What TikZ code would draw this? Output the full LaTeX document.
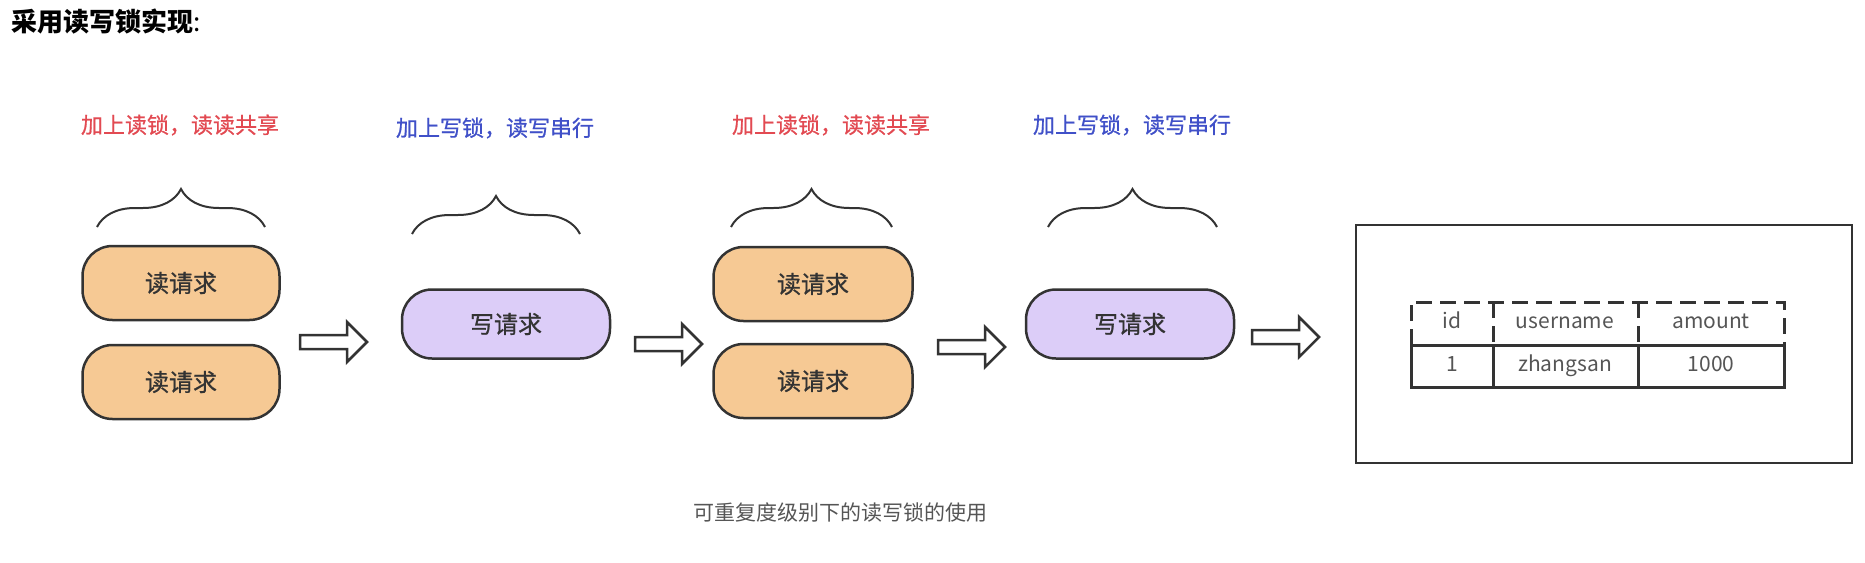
\documentclass[tikz,border=0pt]{standalone}
\usepackage{fontspec}
\setmainfont{Noto Sans CJK SC}
\newfontfamily\medfont[FakeBold=0.8]{Noto Sans CJK SC}
\usetikzlibrary{decorations.pathreplacing}
\definecolor{rot}{HTML}{E24A52}
\definecolor{blau}{HTML}{4050C8}
\definecolor{orangel}{HTML}{F6C994}
\definecolor{lilal}{HTML}{DCCDF8}
\definecolor{rand}{HTML}{333333}
\definecolor{grau}{HTML}{555555}
\tikzset{
  rbox/.style={draw=rand,fill=orangel,line width=2.5pt,rounded corners=30pt,minimum width=197pt,minimum height=74pt,text=rand,font=\medfont\fontsize{24}{24}\selectfont},
  wbox/.style={rbox,fill=lilal,minimum width=208pt,minimum height=69pt},
  klammer/.style={decorate,decoration={brace,amplitude=38pt},rand,line width=2pt},
  pfeil/.style={draw=rand,fill=white,line width=2.5pt,line join=miter},
  lab/.style={font=\medfont\fontsize{22}{22}\selectfont},
  tab/.style={rand,line width=3pt},
  tabd/.style={tab,dash pattern=on 16pt off 8pt},
  zelle/.style={text=grau,text height=15pt,text depth=5pt,font=\fontsize{21}{21}\selectfont},
}

\begin{document}
\begin{tikzpicture}[x=1pt,y=-1pt]
  \useasboundingbox (0,0) rectangle (1865,562);
  \node[anchor=west,font=\fontsize{26}{26}\selectfont] (titel) at (8,22) {\textbf{采用读写锁实现}:};
  % lock groups
  \node[lab,text=rot] (l1) at (180,125) {加上读锁，读读共享};
  \node[lab,text=blau] (l2) at (495,128) {加上写锁，读写串行};
  \node[lab,text=rot] (l3) at (831,125) {加上读锁，读读共享};
  \node[lab,text=blau] (l4) at (1132,125) {加上写锁，读写串行};
  \draw[klammer] (97,227) -- (265,227);
  \draw[klammer] (412,234) -- (580,234);
  \draw[klammer] (731,227) -- (892,227);
  \draw[klammer] (1048,227) -- (1217,227);
  \node[rbox] (r1) at (181,283) {读请求};
  \node[rbox] (r2) at (181,382) {读请求};
  \node[wbox] (w1) at (506,324) {写请求};
  \node[rbox,minimum width=199pt] (r3) at (813,284) {读请求};
  \node[rbox,minimum width=199pt] (r4) at (813,381) {读请求};
  \node[wbox] (w2) at (1130,324) {写请求};
  % block arrows
  \foreach \x/\y [count=\i] in {300/328,635/330,938/333,1252/323}{
    \coordinate (p\i) at (\x,\y);
    \draw[pfeil] ([yshift=-7pt]p\i) -- ++(47,0) -- ++(0,-13) -- ++(20,20) -- ++(-20,20) -- ++(0,-13) -- ++(-47,0) -- cycle;}
  % table
  \node[draw=rand,line width=2.5pt,minimum width=496pt,minimum height=238pt] (db) at (1604,344) {};
  \draw[tabd] (1411,345) -- (1411,302) -- (1784,302) -- (1784,345);
  \draw[tabd] (1493,302) -- (1493,345);
  \draw[tabd] (1638,302) -- (1638,345);
  \draw[tab] (1411,345) rectangle (1784,387);
  \draw[tab] (1493,345) -- (1493,387);
  \draw[tab] (1638,345) -- (1638,387);
  \node[zelle] (h1) at (1452,323) {id};
  \node[zelle] (h2) at (1565,323) {username};
  \node[zelle] (h3) at (1711,323) {amount};
  \node[zelle] (c1) at (1452,366) {1};
  \node[zelle] (c2) at (1565,366) {zhangsan};
  \node[zelle] (c3) at (1711,366) {1000};
  \node[text=grau,font=\fontsize{21}{21}\selectfont] (unter) at (840,513) {可重复度级别下的读写锁的使用};
\end{tikzpicture}
\end{document}
